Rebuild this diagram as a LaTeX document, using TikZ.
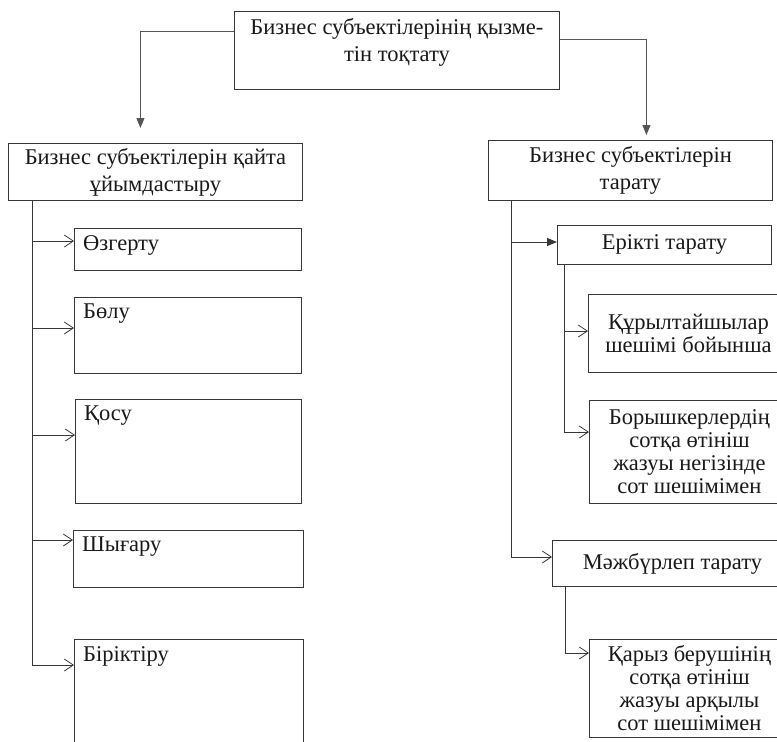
\documentclass[tikz,border=0pt]{standalone}
\usepackage{fontspec}
\setmainfont{Liberation Serif}
\usetikzlibrary{arrows.meta}
\definecolor{boxline}{RGB}{55,55,55}
\definecolor{linkline}{RGB}{85,85,85}
\definecolor{inktext}{RGB}{25,25,25}
\newcommand{\bigtext}{\fontsize{22.5}{27}\selectfont}
\newcommand{\smalltext}{\fontsize{22.5}{23}\selectfont}
\tikzset{
  box/.style={draw=boxline, line width=0.9pt, anchor=north west, inner sep=0pt,
    align=center, text=inktext, font=\bigtext},
  toptext/.style={anchor=north west, inner xsep=9pt, inner ysep=7pt, text=inktext, font=\bigtext},
  filledarrow/.style={draw=linkline, line width=1pt, -{Triangle[length=10pt,width=8pt]}},
  openarrow/.style={draw=boxline, line width=0.8pt, -{Straight Barb[length=9pt,width=12pt]}}
}
\begin{document}
\begin{tikzpicture}[x=1pt,y=-1pt]
\useasboundingbox (0,0) rectangle (777,742);
% top and second level
\node[box, minimum width=325pt, minimum height=78pt,
  label={[toptext,anchor=north,align=center]north:Бизнес субъектілерінің қызме-\\тін тоқтату}] (root) at (234,11) {};
\node[box, minimum width=294pt, minimum height=57pt] (lre) at (8,143) {Бизнес субъектілерін қайта\\ұйымдастыру};
\node[box, minimum width=284pt, minimum height=60pt] (rtar) at (488,140) {Бизнес субъектілерін\\тарату};
\draw[filledarrow] ([yshift=-20pt]root.north west) -| ([xshift=-15pt,yshift=15pt]lre.north);
\draw[filledarrow] ([yshift=-28pt]root.north east) -| ([xshift=16pt,yshift=5pt]rtar.north);
% left column
\node[box, minimum width=227pt, minimum height=42pt, label={[toptext]north west:Өзгерту}] (ozg) at (74,228) {};
\node[box, minimum width=227pt, minimum height=76pt, label={[toptext]north west:Бөлу}] (bol) at (74,297) {};
\node[box, minimum width=226pt, minimum height=104pt, label={[toptext]north west:Қосу}] (qos) at (75,399) {};
\node[box, minimum width=230pt, minimum height=57pt, label={[toptext]north west:Шығару}] (shy) at (73,530) {};
\node[box, minimum width=229pt, minimum height=112pt, label={[toptext]north west:Біріктіру}] (bir) at (74,639) {};
\coordinate (lt) at ([xshift=24pt]lre.south west);
\foreach \n/\d in {ozg/13,bol/31,qos/36,shy/10,bir/26}
  \draw[openarrow] (lt) |- ([yshift=-\d pt]\n.north west);
% right column
\node[box, minimum width=214pt, minimum height=39pt] (erk) at (557,225) {Ерікті тарату};
\node[box, minimum width=200pt, minimum height=78pt, font=\smalltext] (qur) at (588,294) {Құрылтайшылар\\шешімі бойынша};
\node[box, minimum width=200pt, minimum height=103pt, font=\smalltext] (bor) at (589,400) {Борышкерлердің\\сотқа өтініш\\жазуы негізінде\\сот шешімімен};
\node[box, minimum width=240pt, minimum height=46pt] (mzh) at (552,540) {Мәжбүрлеп тарату};
\node[box, minimum width=200pt, minimum height=98pt, font=\smalltext] (qar) at (589,639) {Қарыз берушінің\\сотқа өтініш\\жазуы арқылы\\сот шешімімен};
\coordinate (rt) at ([xshift=23pt]rtar.south west);
\draw[filledarrow, draw=boxline] (rt) |- ([yshift=-17pt]erk.north west);
\draw[openarrow] (rt) |- ([yshift=-17pt]mzh.north west);
\coordinate (et) at ([xshift=7pt]erk.south west);
\foreach \n/\d in {qur/37,bor/32}
  \draw[openarrow] (et) |- ([yshift=-\d pt]\n.north west);
\coordinate (mt) at ([xshift=13pt]mzh.south west);
\draw[openarrow] (mt) |- ([yshift=-14pt]qar.north west);
\end{tikzpicture}
\end{document}
